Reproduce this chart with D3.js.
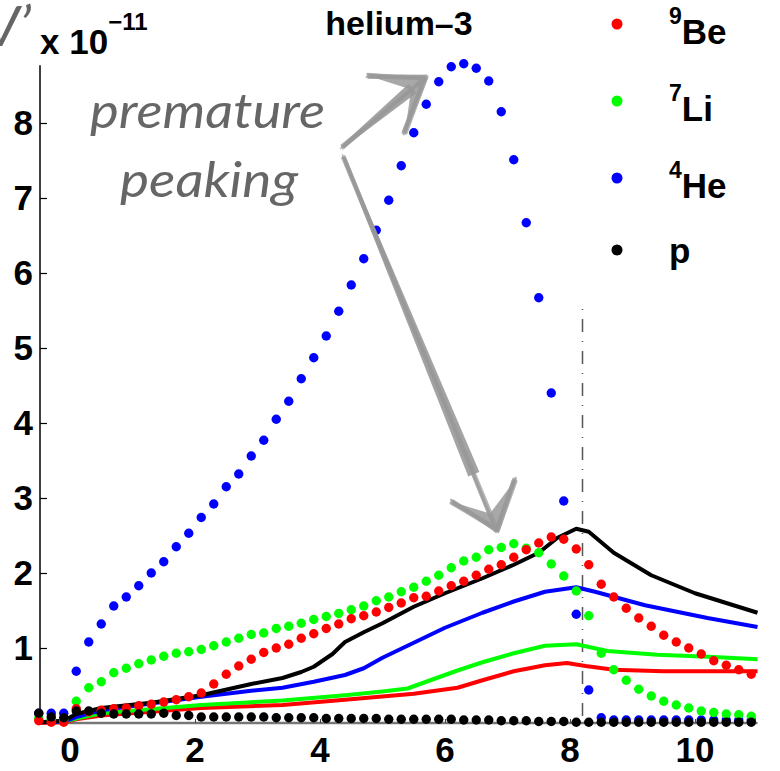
<!DOCTYPE html>
<html>
<head>
<meta charset="utf-8">
<script src="https://cdn.jsdelivr.net/npm/d3@7"></script>
<style>
    body { margin: 0; background: #fff; }
    svg { display: block; font-family: "Liberation Sans", Arial, sans-serif; }
    .tickLabel { font-weight: bold; font-size: 35px; fill: #000; }
    .note { font-family: Lato, "Open Sans", sans-serif; font-style: italic; fill: #666; }
</style>
</head>
<body>
<div id="svgWrapper"></div>
<script>
// x positions shared by all dotted series
const dotX = [-0.5, -0.3, -0.1, 0.1, 0.3, 0.5, 0.7, 0.9, 1.1, 1.3, 1.5, 1.7, 1.9, 2.1, 2.3, 2.5, 2.7, 2.9, 3.1, 3.3,
    3.5, 3.7, 3.9, 4.1, 4.3, 4.5, 4.7, 4.9, 5.1, 5.3, 5.5, 5.7, 5.9, 6.1, 6.3, 6.5, 6.7, 6.9, 7.1, 7.3,
    7.5, 7.7, 7.9, 8.1, 8.3, 8.5, 8.7, 8.9, 9.1, 9.3, 9.5, 9.7, 9.9, 10.1, 10.3, 10.5, 10.7, 10.9];

const he4Dots = [0.13, 0.13, 0.13, 0.69, 1.08, 1.32, 1.56, 1.68, 1.83, 2.0, 2.15, 2.35, 2.53, 2.74, 2.92, 3.15, 3.32, 3.56, 3.77, 4.05,
    4.29, 4.59, 4.87, 5.16, 5.49, 5.84, 6.19, 6.57, 6.97, 7.43, 7.87, 8.25, 8.55, 8.75, 8.79, 8.73, 8.56, 8.15, 7.51, 6.67,
    5.67, 4.4, 2.96, 1.45, 0.44, 0.07, 0.04, 0.04, 0.04, 0.04, 0.04, 0.04, 0.04, 0.04, 0.04, 0.04, 0.04, 0.04];

const li7Dots = [0.06, 0.05, 0.04, 0.29, 0.47, 0.55, 0.67, 0.73, 0.79, 0.84, 0.89, 0.93, 0.95, 0.98, 1.03, 1.08, 1.13, 1.18, 1.20, 1.26,
    1.29, 1.33, 1.38, 1.42, 1.46, 1.51, 1.56, 1.63, 1.68, 1.75, 1.81, 1.89, 1.97, 2.07, 2.16, 2.21, 2.31, 2.34, 2.39, 2.33,
    2.27, 2.12, 1.96, 1.76, 1.43, 0.93, 0.71, 0.57, 0.45, 0.36, 0.29, 0.24, 0.20, 0.16, 0.14, 0.12, 0.11, 0.09];

const be9Dots = [0.03, 0.01, 0.01, 0.19, 0.15, 0.17, 0.19, 0.20, 0.23, 0.25, 0.28, 0.31, 0.35, 0.40, 0.52, 0.65, 0.76, 0.85, 0.94, 1.0,
    1.05, 1.13, 1.19, 1.26, 1.32, 1.39, 1.43, 1.48, 1.54, 1.60, 1.67, 1.69, 1.76, 1.83, 1.89, 1.97, 2.05, 2.11, 2.21, 2.31,
    2.40, 2.48, 2.45, 2.32, 2.11, 1.85, 1.68, 1.53, 1.40, 1.29, 1.17, 1.08, 1.0, 0.92, 0.83, 0.77, 0.71, 0.65];

const pDots = [0.13, 0.08, 0.07, 0.16, 0.16, 0.13, 0.12, 0.12, 0.12, 0.12, 0.13, 0.10, 0.10, 0.08, 0.08, 0.08, 0.08, 0.08, 0.08, 0.07,
    0.07, 0.07, 0.07, 0.06, 0.06, 0.06, 0.06, 0.06, 0.05, 0.05, 0.05, 0.05, 0.05, 0.05, 0.04, 0.04, 0.04, 0.03, 0.03, 0.03,
    0.02, 0.02, 0.02, 0.01, 0.01, 0.01, 0.01, 0.01, 0.01, 0.01, 0.01, 0.01, 0.01, 0.01, 0.01, 0.01, 0.01, 0.01];

// solid curves
const pLineX = [-0.5, -0.1, 0.1, 0.5, 1.3, 2.1, 2.9, 3.4, 3.7, 3.9, 4.2, 4.4, 4.7, 5.0, 5.5, 6.0, 6.6, 7.1, 7.5, 7.8, 8.1, 8.3, 8.7, 9.3, 10.0, 11.0];
const pLineY = [0.01, 0.03, 0.12, 0.2, 0.27, 0.37, 0.52, 0.6, 0.68, 0.75, 0.92, 1.08, 1.21, 1.33, 1.55, 1.73, 1.93, 2.11, 2.27, 2.47, 2.59, 2.55, 2.27, 1.97, 1.73, 1.47];

const heLineX = [-0.5, -0.1, 0.1, 0.5, 1.3, 2.1, 2.9, 3.4, 3.9, 4.4, 4.7, 5.0, 5.5, 6.0, 6.6, 7.1, 7.6, 8.1, 8.4, 9.2, 10.2, 11.0];
const heLineY = [0.01, 0.02, 0.08, 0.17, 0.26, 0.35, 0.43, 0.47, 0.55, 0.64, 0.73, 0.87, 1.07, 1.27, 1.47, 1.62, 1.75, 1.81, 1.75, 1.57, 1.40, 1.28];

const liLineX = [-0.5, -0.1, 0.1, 0.5, 2.1, 3.4, 4.4, 5.0, 5.4, 5.6, 6.2, 6.6, 7.1, 7.6, 8.1, 8.6, 9.4, 10.3, 11.0];
const liLineY = [0.01, 0.02, 0.06, 0.13, 0.24, 0.3, 0.37, 0.42, 0.46, 0.52, 0.7, 0.81, 0.93, 1.03, 1.05, 0.96, 0.91, 0.88, 0.85];

const beLineX = [-0.5, -0.1, 0.1, 0.5, 2.1, 3.4, 4.4, 5.5, 6.2, 6.6, 7.1, 7.6, 7.95, 8.25, 8.7, 9.5, 11.0];
const beLineY = [0.0, 0.01, 0.05, 0.1, 0.2, 0.24, 0.31, 0.39, 0.47, 0.57, 0.69, 0.77, 0.8, 0.76, 0.71, 0.69, 0.69];

const xTicks = [0, 2, 4, 6, 8, 10];
const yTicks = [1, 2, 3, 4, 5, 6, 7, 8];

const legendItems = [
    { sup: '9', name: 'Be', color: '#ff0000' },
    { sup: '7', name: 'Li', color: '#00ff00' },
    { sup: '4', name: 'He', color: '#0000ff' },
    { sup: '', name: 'p', color: '#000000' }
];

function drawGraph() {
    const w = 780;
    const h = 771;

    const svg = d3.select('#svgWrapper')
        .append('svg')
        .attr('width', w)
        .attr('height', h);

    const xScale = d3.scaleLinear().domain([-0.48, 11.0]).range([40, 757.5]);
    const yScale = d3.scaleLinear().domain([0, 8.8]).range([723, 63]);

    // vertical dash-dot marker at x = 8.2
    svg.append('line')
        .attr('x1', xScale(8.2)).attr('x2', xScale(8.2))
        .attr('y1', yScale(5.52)).attr('y2', yScale(0))
        .attr('stroke', '#555')
        .attr('stroke-width', 1.5)
        .attr('stroke-dasharray', '1,9,13,9');

    // axes
    const xAxis = d3.axisBottom(xScale).tickValues(xTicks).tickSize(-4).tickFormat('');
    const yAxis = d3.axisLeft(yScale).tickValues(yTicks).tickSize(-7).tickFormat('');

    const gx = svg.append('g')
        .attr('transform', 'translate(0,' + yScale(0) + ')')
        .call(xAxis);
    gx.select('.domain').attr('stroke', '#777').attr('stroke-width', 2.5).attr('d', 'M' + xScale(-0.48) + ',0H' + xScale(11.0));
    gx.selectAll('.tick line').attr('stroke', '#444');

    const gy = svg.append('g')
        .attr('transform', 'translate(' + xScale(-0.48) + ',0)')
        .call(yAxis);
    gy.select('.domain').attr('stroke', '#000').attr('stroke-width', 1.5).attr('d', 'M0,' + yScale(0) + 'V' + yScale(8.77));
    gy.selectAll('.tick line').attr('stroke', '#000').attr('stroke-width', 1.2);

    svg.selectAll('.xLabel')
        .data(xTicks)
        .enter()
        .append('text')
        .attr('class', 'tickLabel')
        .attr('x', (d) => xScale(d))
        .attr('y', 762)
        .attr('text-anchor', 'middle')
        .text((d) => d);

    svg.selectAll('.yLabel')
        .data(yTicks)
        .enter()
        .append('text')
        .attr('class', 'tickLabel')
        .attr('x', 33)
        .attr('y', (d) => yScale(d) + 12)
        .attr('text-anchor', 'end')
        .text((d) => d);

    // solid lines
    const line = d3.line().x((d) => xScale(d[0])).y((d) => yScale(d[1]));
    const lines = [
        [beLineX, beLineY, '#ff0000'],
        [liLineX, liLineY, '#00ff00'],
        [heLineX, heLineY, '#0000ff'],
        [pLineX, pLineY, '#000000']
    ];
    lines.forEach((l) => {
        svg.append('path')
            .datum(l[0].map((x, i) => [x, l[1][i]]))
            .attr('fill', 'none')
            .attr('stroke', l[2])
            .attr('stroke-width', 4)
            .attr('stroke-linejoin', 'round')
            .attr('d', line);
    });

    // dotted series
    const dots = [
        [he4Dots, '#0000ff'],
        [li7Dots, '#00ff00'],
        [be9Dots, '#ff0000'],
        [pDots, '#000000']
    ];
    dots.forEach((s) => {
        svg.append('g').selectAll('circle')
            .data(s[0])
            .enter()
            .append('circle')
            .attr('cx', (d, i) => xScale(dotX[i]))
            .attr('cy', (d) => yScale(d))
            .attr('r', 4.7)
            .attr('fill', s[1]);
    });

    // title and exponent
    svg.append('text')
        .attr('x', 399).attr('y', 35)
        .attr('text-anchor', 'middle')
        .attr('font-weight', 'bold')
        .attr('font-size', 34)
        .text('helium\u20133');

    const expo = svg.append('text')
        .attr('x', 40).attr('y', 54)
        .attr('font-weight', 'bold')
        .attr('font-size', 35);
    expo.append('tspan').text('x 10');
    expo.append('tspan').attr('dy', -24).attr('font-size', 24).text('\u221211');

    // y label, partly off the left edge as in the original
    svg.append('text')
        .attr('class', 'note')
        .attr('x', 31).attr('y', 46)
        .attr('text-anchor', 'end')
        .attr('font-size', 56)
        .text('V\u2019');

    // legend
    const leg = svg.append('g').selectAll('g')
        .data(legendItems)
        .enter()
        .append('g')
        .attr('transform', (d, i) => 'translate(617,' + [24, 101, 178, 250][i] + ')');
    leg.append('circle').attr('r', 5.5).attr('fill', (d) => d.color);
    const lt = leg.append('text')
        .attr('x', 52).attr('y', (d) => d.sup ? 20 : 13)
        .attr('font-weight', 'bold')
        .attr('font-size', 35);
    lt.append('tspan').attr('dy', -20).attr('font-size', 23).text((d) => d.sup);
    lt.append('tspan').attr('dy', (d) => d.sup ? 20 : 0).text((d) => d.name);

    // annotation
    svg.append('text').attr('class', 'note')
        .attr('x', 90).attr('y', 128)
        .attr('font-size', 48)
        .attr('textLength', 235).attr('lengthAdjust', 'spacingAndGlyphs')
        .text('premature');
    svg.append('text').attr('class', 'note')
        .attr('x', 120).attr('y', 197)
        .attr('font-size', 48)
        .attr('textLength', 178).attr('lengthAdjust', 'spacingAndGlyphs')
        .text('peaking');

    // sketchy arrows, in data units
    const arrows = [
        { tail: [4.35, 7.68], tip: [5.68, 8.6], w1: [4.77, 8.63], w2: [5.36, 7.88] },
        { tail: [4.37, 7.55], tip: [6.83, 2.57], w1: [6.11, 2.95], w2: [7.12, 3.24] }
    ];
    const jitter = [[0, 0], [1.5, -1], [-1.2, 1.3], [2.2, 0.8], [-0.6, -1.8], [0.9, 2]];
    const ag = svg.append('g').attr('stroke', '#999').attr('fill', 'none').attr('stroke-linecap', 'round');
    arrows.forEach((a) => {
        const t = [xScale(a.tail[0]), yScale(a.tail[1])];
        const p = [xScale(a.tip[0]), yScale(a.tip[1])];
        const q1 = [xScale(a.w1[0]), yScale(a.w1[1])];
        const q2 = [xScale(a.w2[0]), yScale(a.w2[1])];
        // shaft wedge: thin at tail, wider near the head
        const dx = p[0] - t[0], dy = p[1] - t[1];
        const len = Math.hypot(dx, dy);
        const nx = -dy / len, ny = dx / len;
        const near = [t[0] + dx * 0.85, t[1] + dy * 0.85];
        ag.append('path')
            .attr('fill', '#999').attr('stroke', 'none').attr('opacity', 0.9)
            .attr('d', 'M' + (t[0] + nx * 1.5) + ',' + (t[1] + ny * 1.5) +
                'L' + (near[0] + nx * 6) + ',' + (near[1] + ny * 6) +
                'L' + (near[0] - nx * 6) + ',' + (near[1] - ny * 6) +
                'L' + (t[0] - nx * 1.5) + ',' + (t[1] - ny * 1.5) + 'Z');
        jitter.forEach((j) => {
            ag.append('path')
                .attr('stroke-width', 1.6).attr('opacity', 0.7)
                .attr('d', 'M' + (t[0] + j[0]) + ',' + (t[1] + j[1]) + 'L' + (p[0] - j[1]) + ',' + (p[1] + j[0]));
            ag.append('path')
                .attr('stroke-width', 2.6).attr('opacity', 0.75)
                .attr('d', 'M' + (q1[0] + j[0]) + ',' + (q1[1] + j[1]) + 'L' + (p[0] + j[1]) + ',' + (p[1] - j[0]) +
                    'L' + (q2[0] - j[0]) + ',' + (q2[1] + j[1]));
        });
        // head fill
        const notch = [p[0] - dx / len * 18, p[1] - dy / len * 18];
        ag.append('path')
            .attr('fill', '#999').attr('stroke', 'none').attr('opacity', 0.85)
            .attr('d', 'M' + q1[0] + ',' + q1[1] + 'L' + p[0] + ',' + p[1] + 'L' + q2[0] + ',' + q2[1] +
                'L' + notch[0] + ',' + notch[1] + 'Z');
    });
}

drawGraph();
</script>
</body>
</html>
